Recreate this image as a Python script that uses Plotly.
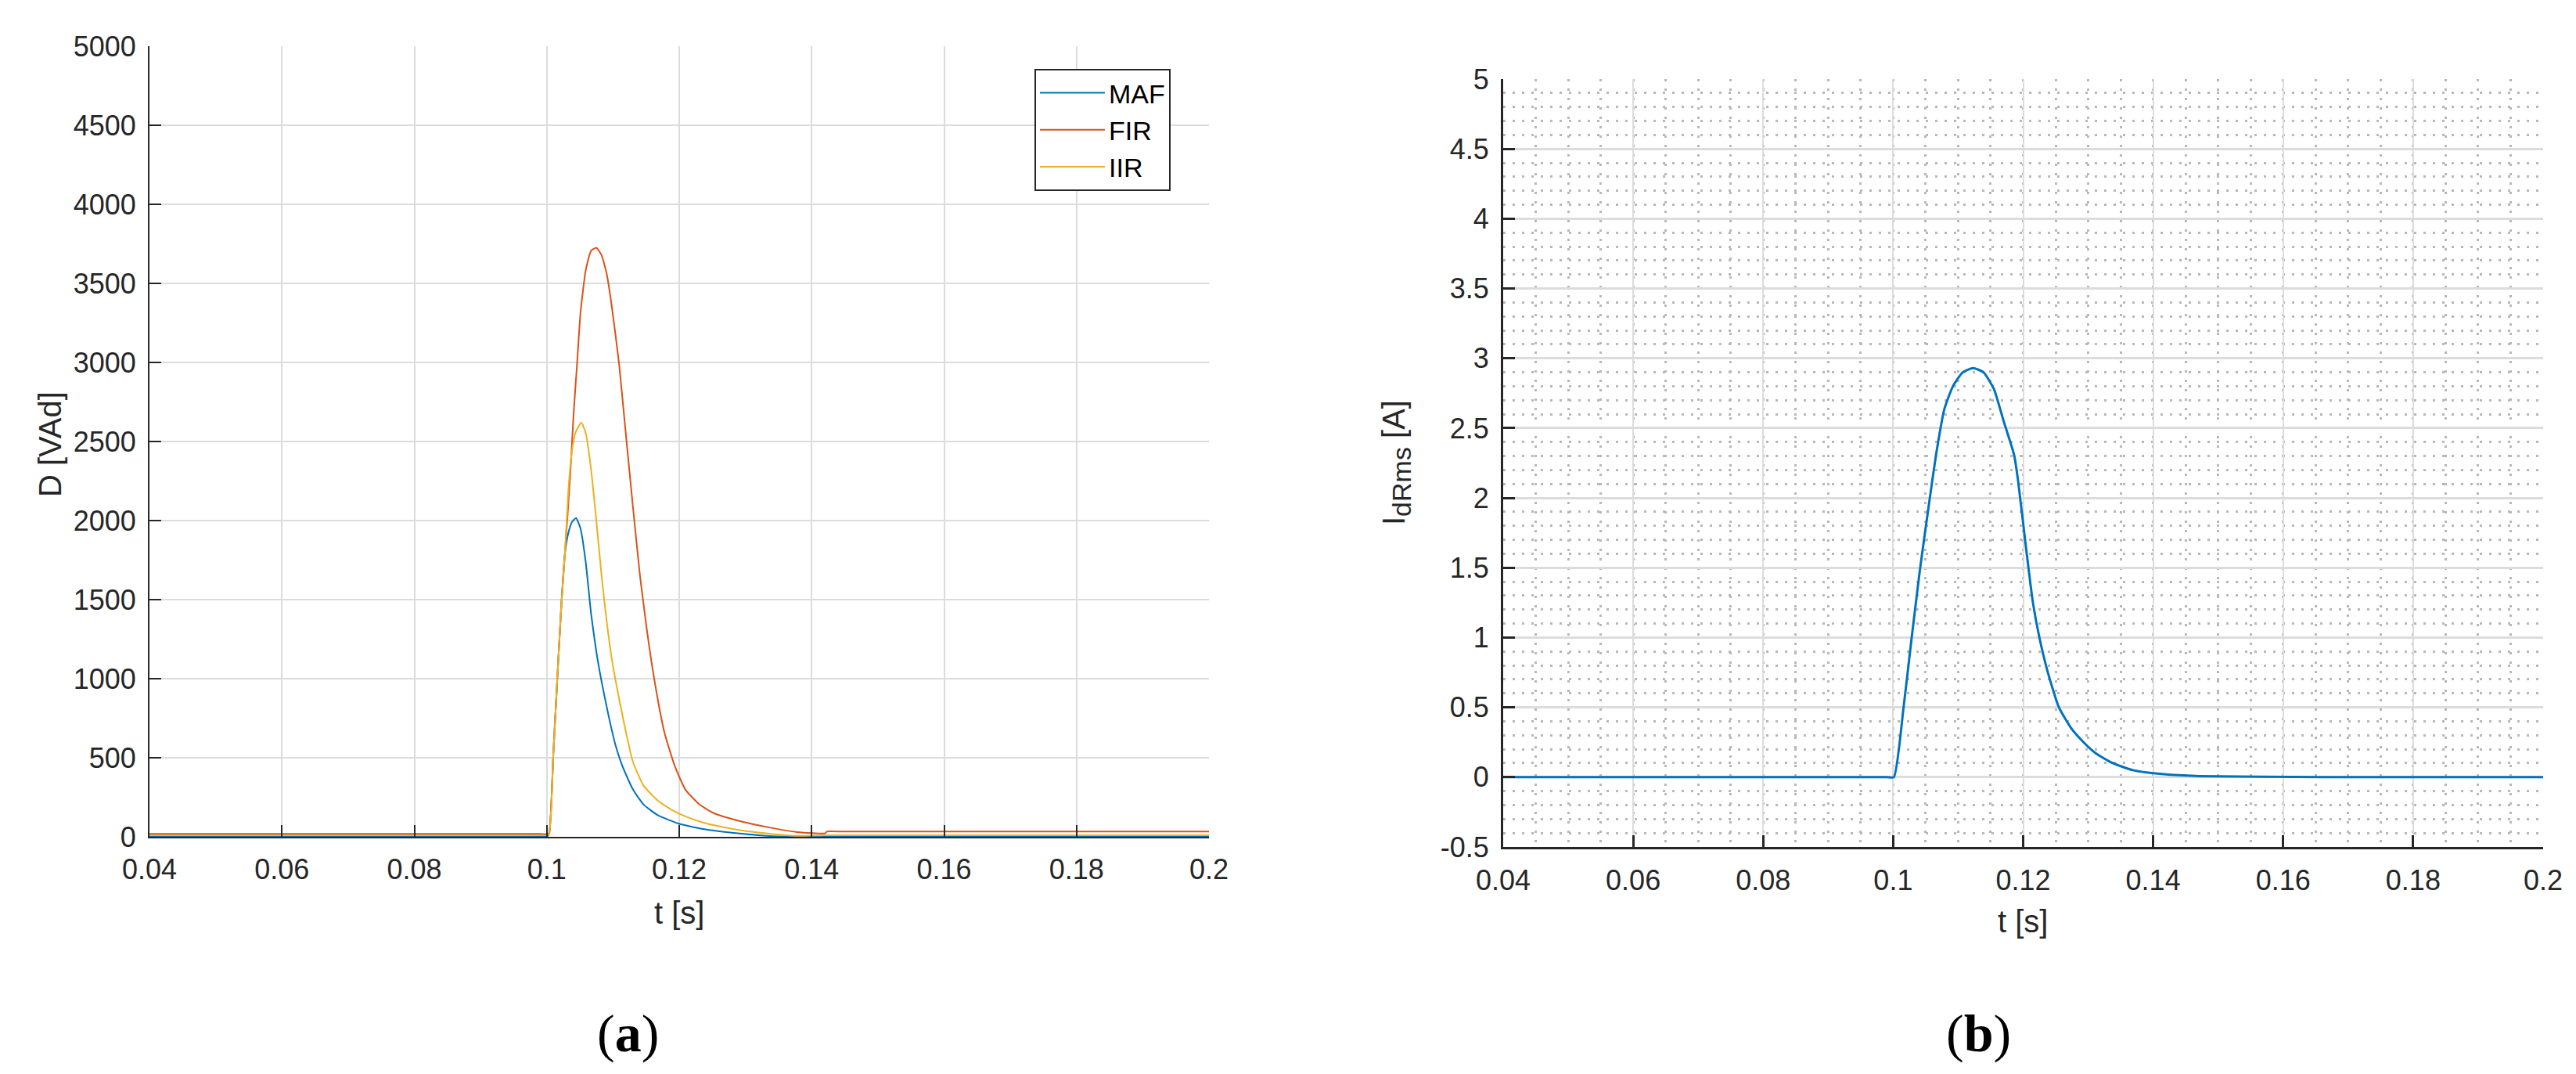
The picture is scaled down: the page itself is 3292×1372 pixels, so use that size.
import plotly.graph_objects as go

W, H = 3292, 1372

# ---- (a) D [VAd] for the three filters ----
t_maf = [0.04, 0.099, 0.1, 0.10035, 0.10099, 0.10167, 0.1022, 0.10273, 0.10326, 0.10378, 0.10442,
         0.1051, 0.10589, 0.10669, 0.10748, 0.10827, 0.10932, 0.11038, 0.11143, 0.11302,
         0.1146, 0.11671, 0.11988, 0.12357, 0.12884, 0.13412, 0.14, 0.2]
d_maf = [2, 2, 2, 16, 526, 1063, 1466, 1788, 1922, 1989, 2016,
         1949, 1734, 1412, 1171, 983, 768, 580, 446, 299,
         205, 138, 84, 49, 22, 4, 2, 2]

t_fir = [0.04, 0.099, 0.1, 0.10035, 0.10099, 0.10167, 0.1022, 0.10273, 0.10352, 0.10405, 0.10458,
         0.1051, 0.10589, 0.10669, 0.10748, 0.10827, 0.10906, 0.10985, 0.11091, 0.11196,
         0.11302, 0.11407, 0.11513, 0.11618, 0.11776, 0.11935, 0.12093, 0.12304, 0.12515,
         0.12884, 0.13412, 0.13781, 0.14203, 0.1423, 0.145, 0.2]
d_fir = [18, 18, 18, 25, 526, 1063, 1466, 1788, 2271, 2673, 2995,
         3317, 3585, 3706, 3725, 3679, 3558, 3344, 2995, 2539,
         2083, 1653, 1305, 1010, 661, 446, 299, 205, 151,
         103, 55, 30, 22, 33, 33, 33]

t_iir = [0.04, 0.099, 0.1, 0.10035, 0.10099, 0.10167, 0.1022, 0.10273, 0.10326, 0.10378, 0.10431,
         0.10521, 0.10589, 0.10669, 0.10748, 0.10827, 0.10906, 0.10985, 0.11091, 0.11196,
         0.11302, 0.1146, 0.11671, 0.11882, 0.12093, 0.1241, 0.12884, 0.13412, 0.13781,
         0.142, 0.146, 0.2]
d_iir = [10, 10, 10, 16, 526, 1063, 1466, 1788, 2190, 2432, 2552,
         2620, 2552, 2324, 2002, 1653, 1358, 1117, 875, 661,
         473, 325, 231, 172, 129, 84, 44, 17, 6,
         10, 10, 10]

# ---- (b) I_dRms [A] ----
t_rms = [0.04, 0.099, 0.1001, 0.1016, 0.1028, 0.1041, 0.1054, 0.1066, 0.1079, 0.1092, 0.1107,
         0.1123, 0.1139, 0.1155, 0.117, 0.1186, 0.1192, 0.1205, 0.1215, 0.1225, 0.1238,
         0.1255, 0.1274, 0.1293, 0.1312, 0.1338, 0.1369, 0.1407, 0.147, 0.166, 0.175, 0.2]
i_rms = [0, 0, 0, 0.5, 0.98, 1.48, 1.92, 2.31, 2.64, 2.8, 2.9,
         2.93, 2.9, 2.78, 2.55, 2.31, 2.13, 1.62, 1.25, 1.0, 0.75,
         0.5, 0.35, 0.25, 0.17, 0.1, 0.05, 0.025, 0.008, 0.0, 0.0, 0.0]

x_ticks = [0.04, 0.06, 0.08, 0.1, 0.12, 0.14, 0.16, 0.18, 0.2]
x_labels = ['0.04', '0.06', '0.08', '0.1', '0.12', '0.14', '0.16', '0.18', '0.2']
yb_ticks = [-0.5, 0, 0.5, 1, 1.5, 2, 2.5, 3, 3.5, 4, 4.5, 5]
yb_labels = ['-0.5', '0', '0.5', '1', '1.5', '2', '2.5', '3', '3.5', '4', '4.5', '5']

colors = ['#0072BD', '#D95319', '#EDB120']
sans = 'Liberation Sans, Arial, sans-serif'
serif = 'Liberation Serif, Times New Roman, serif'

fig = go.Figure()
for name, t, d, c in [('MAF', t_maf, d_maf, colors[0]),
                      ('FIR', t_fir, d_fir, colors[1]),
                      ('IIR', t_iir, d_iir, colors[2])]:
    fig.add_trace(go.Scatter(x=t, y=d, mode='lines', name=name,
                             line=dict(color=c, width=2, shape='spline', smoothing=0.5),
                             xaxis='x', yaxis='y'))

fig.add_trace(go.Scatter(x=t_rms, y=i_rms, mode='lines', showlegend=False,
                         line=dict(color=colors[0], width=3, shape='spline', smoothing=0.5),
                         xaxis='x2', yaxis='y2'))

ax = dict(showline=True, linecolor='#262626', mirror=False, ticks='inside', ticklen=15,
          tickcolor='#262626', showgrid=True, gridcolor='#dcdcdc', gridwidth=2, zeroline=False,
          automargin=False, tickfont=dict(family=sans, size=36, color='#262626'))

# dotted minor grid of panel (b)
minor_x = dict(dtick=0.005, tick0=0.04, showgrid=True, gridcolor='#b8b8b8', gridwidth=3,
               griddash='3px,9px')
minor_y = dict(dtick=0.1, tick0=0, showgrid=True, gridcolor='#b8b8b8', gridwidth=3,
               griddash='3px,9px')

fig.update_layout(
    template='none',
    width=W, height=H, autosize=False,
    margin=dict(l=0, r=0, t=0, b=0, pad=0),
    paper_bgcolor='white', plot_bgcolor='white',
    xaxis=dict(ax, domain=[183 / W, 1537 / W], range=[0.04, 0.2], anchor='y',
               tickvals=x_ticks, ticktext=x_labels, linewidth=2, tickwidth=2, ticklabelstandoff=9),
    yaxis=dict(ax, domain=[1 - 1061 / H, 1 - 51 / H], range=[0, 5000], anchor='x',
               dtick=500, tick0=0, linewidth=2, tickwidth=2, ticklabelstandoff=8),
    xaxis2=dict(ax, domain=[1913 / W, 3242 / W], range=[0.04, 0.2], anchor='y2',
                tickvals=x_ticks, ticktext=x_labels, linewidth=3, tickwidth=3, minor=minor_x,
                ticklabelstandoff=9),
    yaxis2=dict(ax, domain=[1 - 1074 / H, 1 - 93 / H], range=[-0.5, 5], anchor='x2',
                tickvals=yb_ticks, ticktext=yb_labels, linewidth=3, tickwidth=3, minor=minor_y,
                gridwidth=3, ticklabelstandoff=8),
    legend=dict(x=1314 / W, y=1 - 80 / H, xanchor='left', yanchor='top',
                bordercolor='#262626', borderwidth=2, bgcolor='white',
                font=dict(family=sans, size=34, color='black'),
                itemwidth=83, tracegroupgap=0),
    showlegend=True,
)

annots = [
    dict(text='D [VAd]', x=56 / W, y=1 - 560 / H, textangle=-90, size=40, fam=sans, col='#262626'),
    dict(text='t [s]', x=860 / W, y=1 - 1158 / H, textangle=0, size=40, fam=sans, col='#262626'),
    dict(text='I<sub><span style="font-size:34px">dRms</span></sub> [A]', x=1776 / W, y=1 - 583 / H,
         textangle=-90, size=40, fam=sans, col='#262626'),
    dict(text='t [s]', x=2577 / W, y=1 - 1169 / H, textangle=0, size=40, fam=sans, col='#262626'),
    dict(text='(<b>a</b>)', x=794 / W, y=1 - 1312 / H, textangle=0, size=68, fam=serif, col='black'),
    dict(text='(<b>b</b>)', x=2520 / W, y=1 - 1312 / H, textangle=0, size=68, fam=serif, col='black'),
]
for a in annots:
    fig.add_annotation(text=a['text'], x=a['x'], y=a['y'], xref='paper', yref='paper',
                       xanchor='center', yanchor='middle', showarrow=False, textangle=a['textangle'],
                       font=dict(family=a['fam'], size=a['size'], color=a['col']))

fig.write_html("out.html")
